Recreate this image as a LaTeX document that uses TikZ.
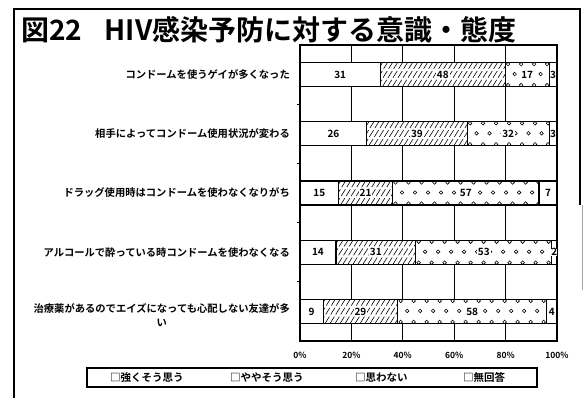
\documentclass[tikz,border=0pt]{standalone}
\usepackage{fontspec}
\setmainfont{Noto Sans CJK JP}[BoldFont={Noto Sans CJK JP Bold}]
\tikzset{
  frameline/.style={line width=1.2pt},
  segbox/.style={draw, line width=1.1pt},
  gridl/.style={line width=1pt},
  hatchl/.style={line width=0.6pt, dash pattern=on 8pt off 2.5pt},
  dotc/.style={line width=0.6pt},
  valtxt/.style={font=\bfseries\fontsize{10}{10}\selectfont, inner sep=1pt, fill=white},
  cattxt/.style={font=\bfseries\fontsize{10.3}{14}\selectfont, inner sep=0pt, anchor=east, align=center},
  axtxt/.style={font=\bfseries\fontsize{8.5}{8.5}\selectfont, inner sep=0pt},
  legtxt/.style={font=\bfseries\fontsize{10.5}{10.5}\selectfont, inner sep=0pt, anchor=west},
}
\newcommand\rowbar[6]{%
  \pgfmathsetmacro\yc{45+59.2*(#1-0.5)}%
  \pgfmathsetmacro\ya{\yc-12}\pgfmathsetmacro\yb{\yc+12}%
  \pgfmathsetmacro\xb{300+257*(#2/#6)}%
  \pgfmathsetmacro\xc{300+257*((#2+#3)/#6)}%
  \pgfmathsetmacro\xd{300+257*((#2+#3+#4)/#6)}%
  \fill[white] (300,\ya) rectangle (557,\yb);
  \begin{scope}
    \clip (\xb,\ya) rectangle (\xc,\yb);
    \pgfmathsetmacro\hend{\xc-\xb+20}%
    \foreach \h in {0,5,...,\hend} \draw[hatchl] (\xb-18+\h,\yb) -- (\xb-3+\h,\ya);
  \end{scope}
  \begin{scope}
    \clip (\xc,\ya) rectangle (\xd,\yb);
    \pgfmathsetmacro\dend{\xd-\xc+6}%
    \foreach \dd in {0,13,...,\dend} {
      \draw[dotc] (\xc+3+\dd,\ya+1.5) circle (1.8);
      \draw[dotc] (\xc+9.5+\dd,\yc-0.5) circle (1.8);
      \draw[dotc] (\xc+3+\dd,\yb-1.5) circle (1.8);
    }
  \end{scope}
  \draw[segbox] (300,\ya) rectangle (\xb,\yb);
  \draw[segbox] (\xb,\ya) rectangle (\xc,\yb);
  \draw[segbox] (\xc,\ya) rectangle (\xd,\yb);
  \draw[segbox] (\xd,\ya) rectangle (557,\yb);
  \node[valtxt] (v#1a) at ({(300+\xb)/2},\yc) {#2};
  \node[valtxt] (v#1b) at ({(\xb+\xc)/2},\yc) {#3};
  \node[valtxt] (v#1c) at ({(\xc+\xd)/2},\yc) {#4};
  \node[valtxt, inner sep=0pt] (v#1d) at ({(\xd+557)/2},\yc) {#5};
}
\begin{document}
\begin{tikzpicture}[x=1pt,y=-1pt]
\useasboundingbox (0,0) rectangle (585,398);
\fill[white] (0,0) rectangle (585,398);
% outer frame
\draw[frameline] (14,398) -- (14,9) -- (580,9) -- (580,205);
\draw[line width=0.6pt, black!35] (582,205) -- (582,290);
% title
\node[anchor=west, inner sep=0pt, font=\bfseries\fontsize{28}{28}\selectfont] (title) at (21,30)
  {図22\hspace{0.8em}HIV感染予防に対する意識・態度};
% plot area
\draw[frameline] (300,45) rectangle (557,341);
\foreach \g in {1,2,3,4} \draw[gridl] ({300+51.4*\g},45) -- ({300+51.4*\g},341);
\foreach \t in {1,2,3,4} \draw[gridl] (297,{45+59.2*\t}) -- (300,{45+59.2*\t});
% bars
\rowbar{1}{31}{48}{17}{3}{99}
\rowbar{2}{26}{39}{32}{3}{100}
\rowbar{3}{15}{21}{57}{7}{100}
\rowbar{4}{14}{31}{53}{2}{100}
\rowbar{5}{9}{29}{58}{4}{100}
% category labels
\node[cattxt] (c1) at (290,74.6) {コンドームを使うゲイが多くなった};
\node[cattxt] (c2) at (290,133.8) {相手によってコンドーム使用状況が変わる};
\node[cattxt] (c3) at (290,193) {ドラッグ使用時はコンドームを使わなくなりがち};
\node[cattxt] (c4) at (290,252.2) {アルコールで酔っている時コンドームを使わなくなる};
\node[cattxt] (c5) at (290,315) {治療薬があるのでエイズになっても心配しない友達が多\\い};
% axis labels
\node[axtxt] (a0) at (300,355) {0\%};
\node[axtxt] (a1) at (351.4,355) {20\%};
\node[axtxt] (a2) at (402.8,355) {40\%};
\node[axtxt] (a3) at (454.2,355) {60\%};
\node[axtxt] (a4) at (505.6,355) {80\%};
\node[axtxt] (a5) at (557,355) {100\%};
% legend
\draw[frameline] (87,368) rectangle (537,387);
\node[legtxt] (l1) at (110,377.5) {□強くそう思う};
\node[legtxt] (l2) at (230,377.5) {□ややそう思う};
\node[legtxt] (l3) at (355,377.5) {□思わない};
\node[legtxt] (l4) at (463,377.5) {□無回答};
\end{tikzpicture}
\end{document}
